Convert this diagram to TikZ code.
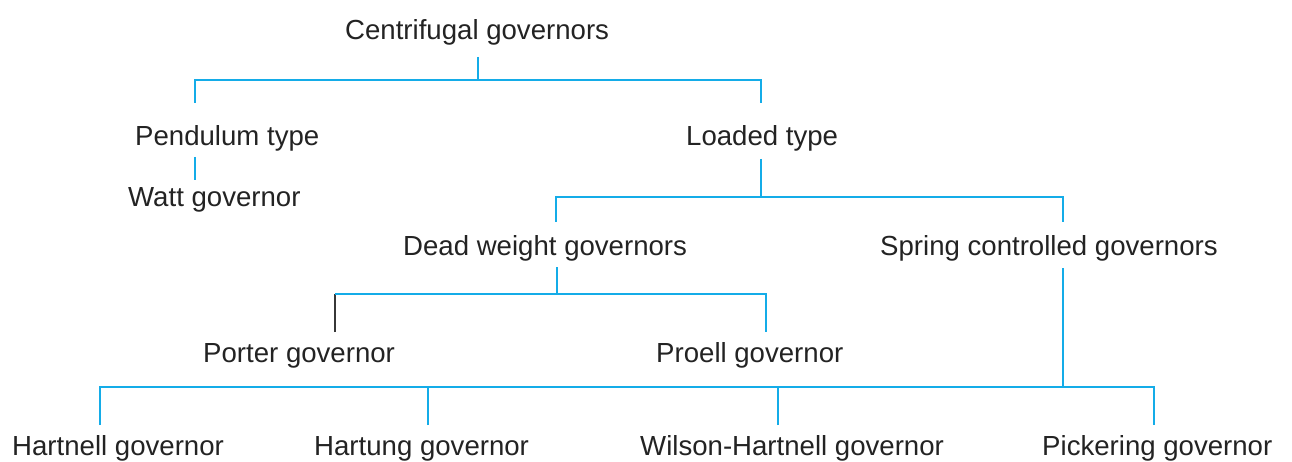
\documentclass[tikz,border=0pt]{standalone}
\usepackage{fontspec}
\setmainfont{Liberation Sans}
\definecolor{lineblue}{RGB}{20,172,232}
\definecolor{txt}{RGB}{35,35,35}
\definecolor{darkline}{RGB}{55,55,55}
\begin{document}
\begin{tikzpicture}[x=1pt,y=-1pt,
  lbl/.style={anchor=base west,inner sep=0pt,text=txt,font=\fontsize{27.6}{33}\selectfont},
  conn/.style={draw=lineblue,line width=1.8pt},
  connk/.style={draw=darkline,line width=1.6pt}]
\useasboundingbox (0,0) rectangle (1292,462);
\fill[white] (0,0) rectangle (1292,462);
% nodes
\node[lbl] (cg)  at (345,40)  {Centrifugal governors};
\node[lbl] (pt)  at (135,146) {Pendulum type};
\node[lbl] (wg)  at (128,207) {Watt governor};
\node[lbl] (lt)  at (686,146) {Loaded type};
\node[lbl] (dw)  at (403,255) {Dead weight governors};
\node[lbl] (sc)  at (880,255) {Spring controlled governors};
\node[lbl] (pg)  at (203,362) {Porter governor};
\node[lbl] (prg) at (656,362) {Proell governor};
\node[lbl] (hg)  at (12,455)  {Hartnell governor};
\node[lbl] (htg) at (314,455) {Hartung governor};
\node[lbl] (whg) at (640,455) {Wilson-Hartnell governor};
\node[lbl] (pkg) at (1042,455) {Pickering governor};
% connector end points
\coordinate (cg-o) at (478,57);
\coordinate (pt-i) at (195,103);
\coordinate (lt-i) at (761,103);
\coordinate (pt-o) at (195,157);
\coordinate (wg-i) at (195,180);
\coordinate (lt-o) at (761,159);
\coordinate (dw-i) at (556,222);
\coordinate (sc-i) at (1063,222);
\coordinate (dw-o) at (557,267);
\coordinate (pg-i) at (335,332);
\coordinate (prg-i) at (766,332);
\coordinate (sc-o) at (1063,268);
\coordinate (hg-i) at (100,425);
\coordinate (htg-i) at (428,425);
\coordinate (whg-i) at (778,425);
\coordinate (pkg-i) at (1154,425);
% connectors
\draw[conn] (cg-o) -- (cg-o |- 0,80);
\draw[conn] (pt-i) |- (0,80 -| lt-i) -- (lt-i);
\draw[conn] (pt-o) -- (wg-i);
\draw[conn] (lt-o) -- (lt-o |- 0,197);
\draw[conn] (dw-i) |- (0,197 -| sc-i) -- (sc-i);
\draw[conn] (dw-o) -- (dw-o |- 0,294);
\draw[connk] (pg-i) -- (pg-i |- 0,294);
\draw[conn] (pg-i |- 0,294) -- (0,294 -| prg-i) -- (prg-i);
\draw[conn] (sc-o) -- (sc-o |- 0,387);
\draw[conn] (hg-i) |- (0,387 -| pkg-i) -- (pkg-i);
\draw[conn] (htg-i) -- (htg-i |- 0,387);
\draw[conn] (whg-i) -- (whg-i |- 0,387);
\end{tikzpicture}
\end{document}
